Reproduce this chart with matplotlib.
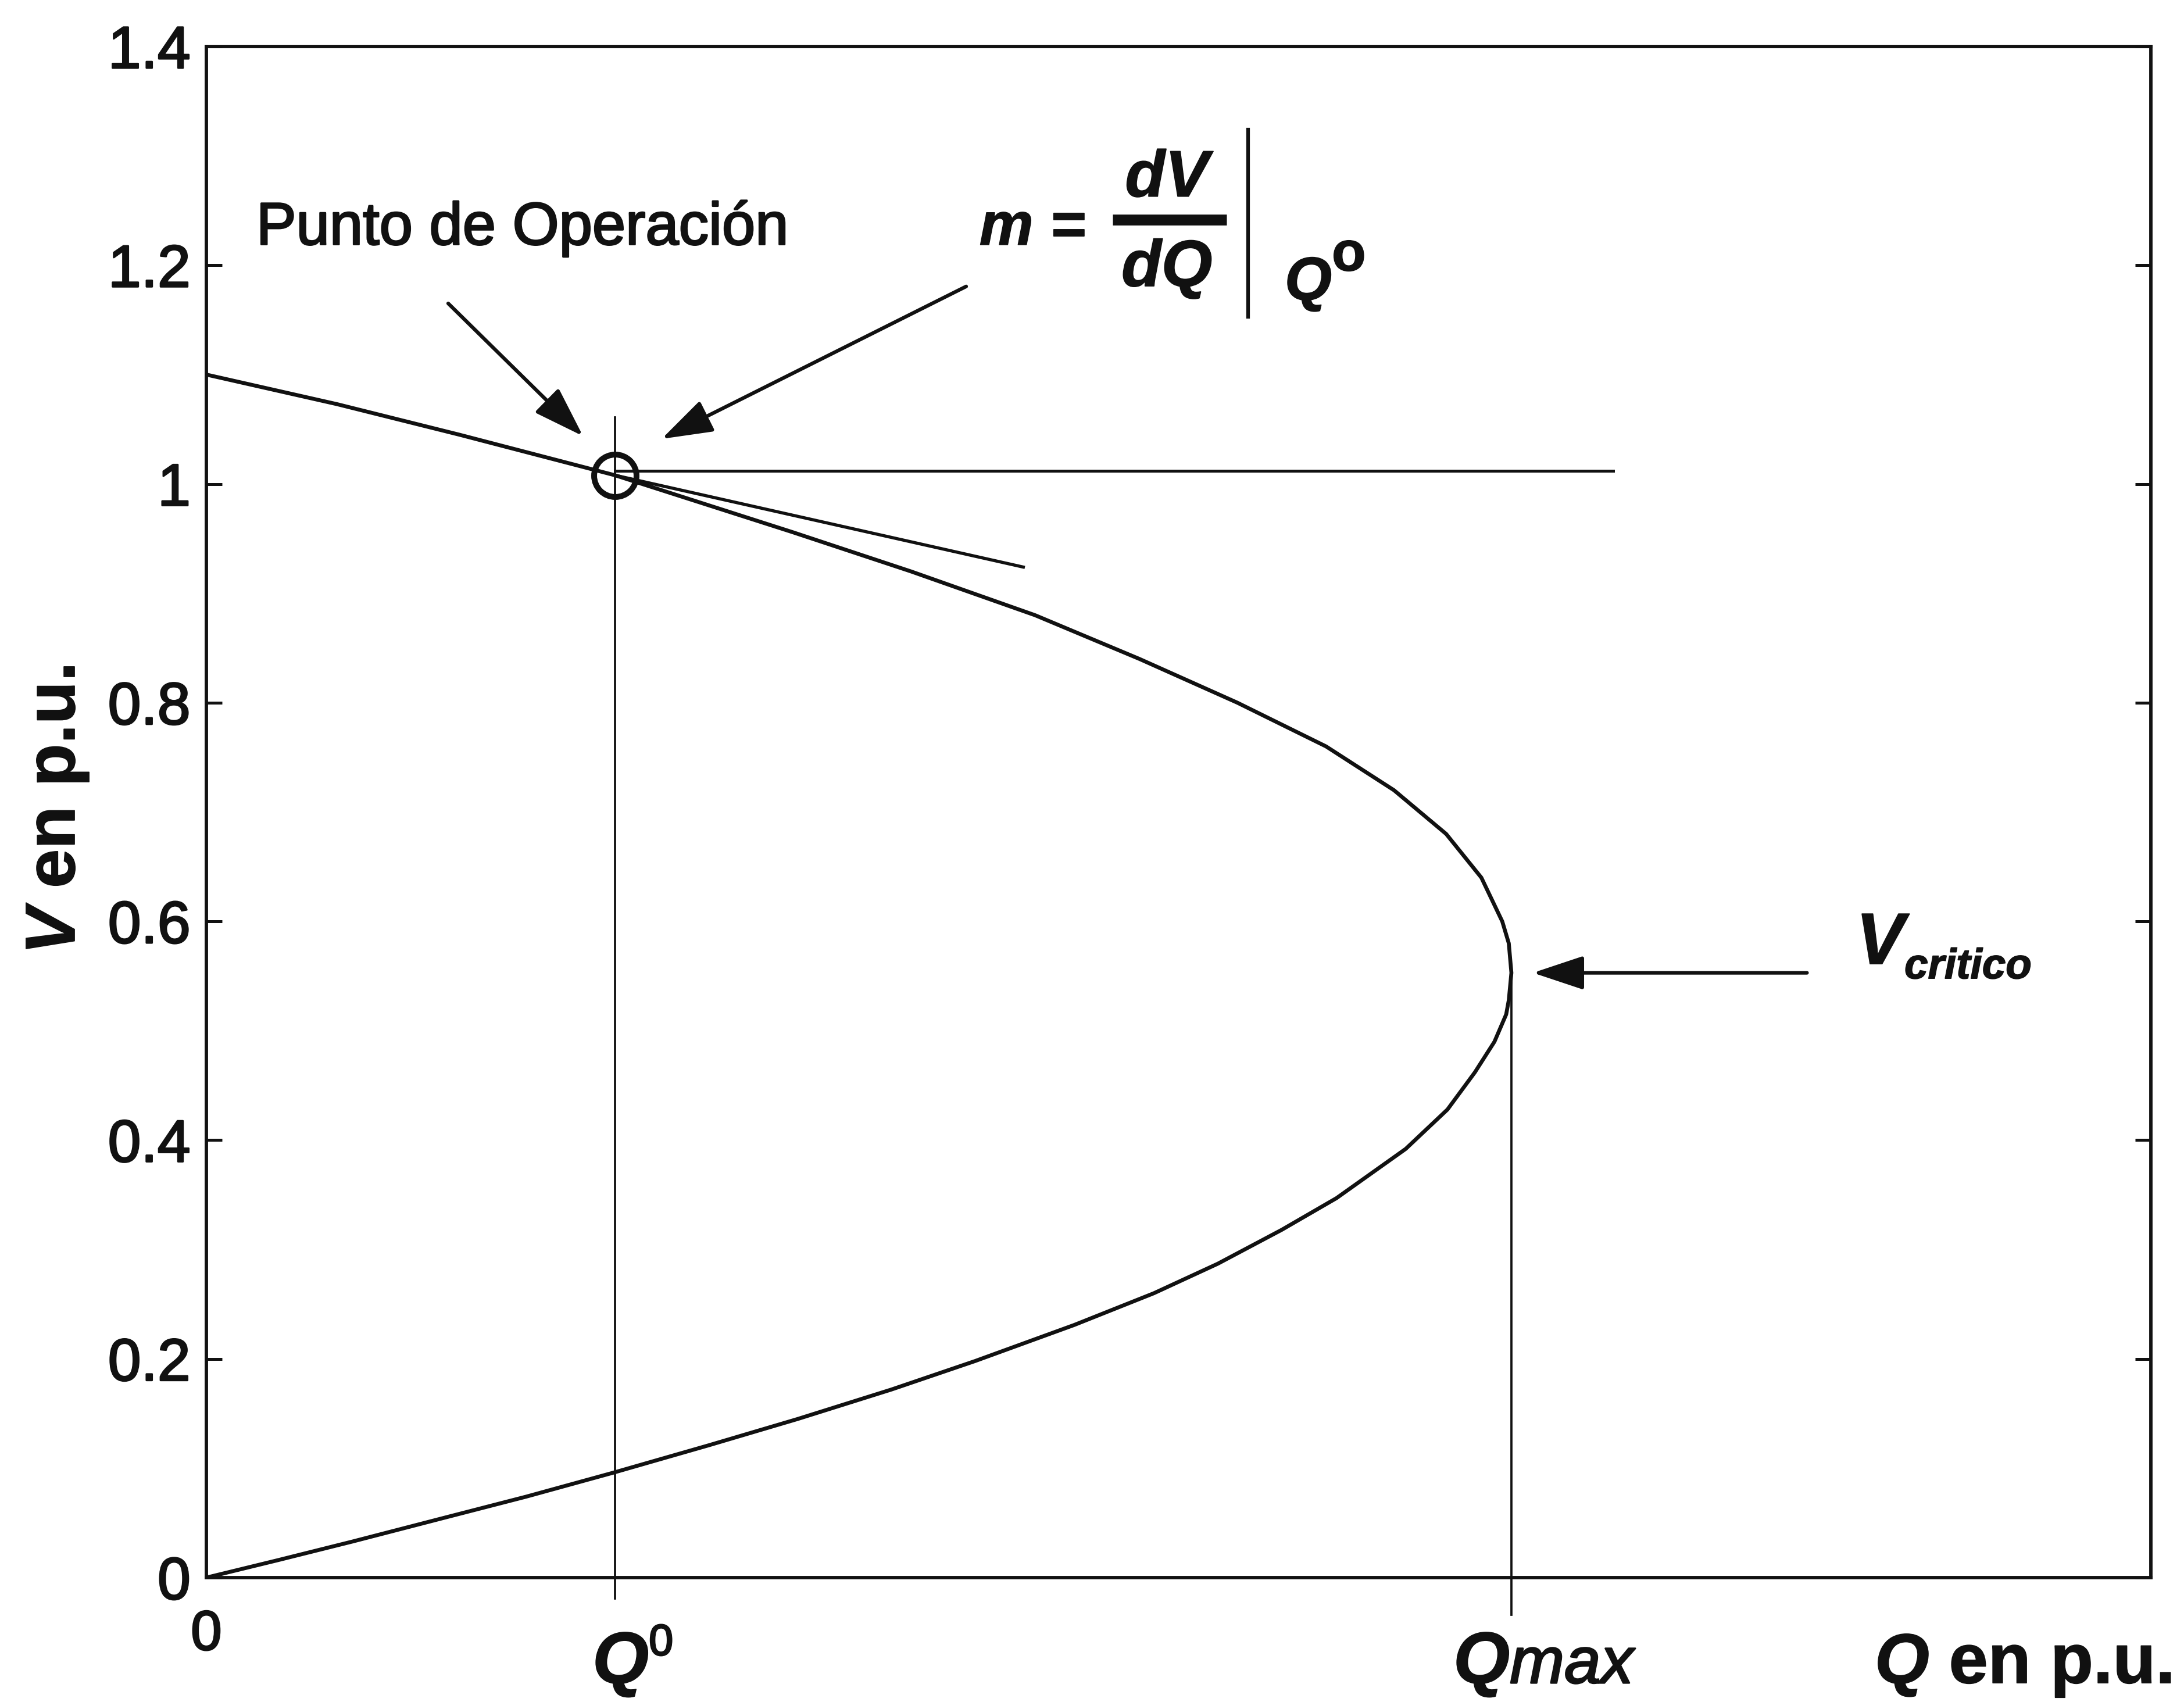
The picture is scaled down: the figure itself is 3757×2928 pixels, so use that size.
import numpy as np
import matplotlib
matplotlib.use("Agg")
import matplotlib.pyplot as plt
import matplotlib.patheffects as pe

# --- Datos de la curva V-Q (en p.u., Q normalizado con Qmax = 1) ---
# rama superior (de Q = 0 hasta la nariz) y rama inferior (de la nariz al origen)
Q_UPPER = [0.000, 0.100, 0.194, 0.313, 0.449, 0.540, 0.635, 0.715, 0.790,
           0.858, 0.910, 0.950, 0.977, 0.993, 0.998, 1.000]
V_UPPER = [1.100, 1.073, 1.045, 1.008, 0.956, 0.920, 0.880, 0.840, 0.800,
           0.760, 0.720, 0.680, 0.640, 0.600, 0.580, 0.553]
Q_LOWER = [1.000, 0.998, 0.996, 0.987, 0.972, 0.951, 0.919, 0.866, 0.824,
           0.775, 0.726, 0.665, 0.589, 0.525, 0.453, 0.385, 0.312, 0.245,
           0.180, 0.112, 0.055, 0.000]
V_LOWER = [0.553, 0.528, 0.515, 0.490, 0.462, 0.428, 0.392, 0.347, 0.318,
           0.287, 0.260, 0.231, 0.198, 0.172, 0.145, 0.121, 0.096, 0.074,
           0.054, 0.033, 0.016, 0.000]

Q0 = 0.313          # punto de operación
V_OP = 1.008
Q_MAX = 1.0
V_CRIT = 0.553
V_HLINE = 1.012     # línea horizontal desde el punto de operación
Q_HLINE_END = 1.078
Q_TAN_END = 0.626   # extremo de la tangente dV/dQ
V_TAN_END = 0.924

Y_TICKS = [0.0, 0.2, 0.4, 0.6, 0.8, 1.0, 1.2, 1.4]
Y_TICK_LABELS = ["0", "0.2", "0.4", "0.6", "0.8", "1", "1.2", "1.4"]
X_TICKS = [0.0]
X_TICK_LABELS = ["0"]

INK = "#111111"
W, H, DPI = 3757, 2928, 300

plt.rcParams["font.family"] = ["Liberation Sans", "DejaVu Sans"]

# trazo extra para que el texto tenga el grosor de la impresión
THICK = [pe.withStroke(linewidth=0.7, foreground=INK)]
THICK_B = [pe.withStroke(linewidth=0.4, foreground=INK)]

fig = plt.figure(figsize=(W / DPI, H / DPI), dpi=DPI)
fig.patch.set_facecolor("white")
ax = fig.add_axes([355 / W, 1 - 2714 / H, (3700 - 355) / W, (2714 - 80) / H])
ax.set_xlim(0, 1.49)
ax.set_ylim(0, 1.4)

for s in ax.spines.values():
    s.set_linewidth(1.4)
    s.set_color(INK)

ax.set_yticks(Y_TICKS)
ax.set_yticklabels(Y_TICK_LABELS)
ax.set_xticks(X_TICKS)
ax.set_xticklabels(X_TICK_LABELS)
ax.tick_params(axis="y", direction="in", length=6.5, width=1.2, right=True,
               labelsize=24.5, pad=6.5, colors=INK)
ax.tick_params(axis="x", length=0, labelsize=23, pad=13, colors=INK)
for lab in ax.get_yticklabels() + ax.get_xticklabels():
    lab.set_path_effects(THICK)

# curva nariz
ax.plot(Q_UPPER + Q_LOWER, V_UPPER + V_LOWER, color=INK, lw=1.6,
        solid_joinstyle="round")

# líneas auxiliares
ax.plot([Q0, Q0], [-0.019, 1.061], color=INK, lw=0.9, clip_on=False)
ax.plot([Q_MAX, Q_MAX], [-0.034, V_CRIT], color=INK, lw=0.9, clip_on=False)
ax.plot([Q0, Q_HLINE_END], [V_HLINE, V_HLINE], color=INK, lw=1.2)
ax.plot([Q0, Q_TAN_END], [V_OP, V_TAN_END], color=INK, lw=1.3)
ax.plot([Q0], [V_OP], marker="o", mfc="none", mec=INK, ms=17.5, mew=2.4)

# flechas
arrow = dict(arrowstyle="-|>,head_length=1.8,head_width=0.6", mutation_scale=10,
             lw=1.5, color=INK, fc=INK, shrinkA=0, shrinkB=0)
ax.annotate("", xy=(0.2886, 1.0438), xytext=(0.1853, 1.1651), arrowprops=arrow)
ax.annotate("", xy=(0.3489, 1.0412), xytext=(0.5822, 1.1806), arrowprops=arrow)
ax.annotate("", xy=(1.0165, V_CRIT), xytext=(1.2265, V_CRIT), arrowprops=arrow)

ax.text(0.0383, 1.219, "Punto de Operación", fontsize=24.7, color=INK,
        ha="left", va="baseline", path_effects=THICK)

renderer = fig.canvas.get_renderer()


def put_runs(x, y, runs, rotation=0):
    """Escribe trozos de texto con estilos distintos uno tras otro."""
    px, py = ax.transData.transform((x, y))
    for text, size, weight, style, rise in runs:
        rp = rise * DPI / 72
        tx, ty = (px - rp, py) if rotation == 90 else (px, py + rp)
        t = fig.text(tx / W, ty / H, text, fontsize=size, fontweight=weight,
                     fontstyle=style, ha="left", va="baseline", color=INK,
                     rotation=rotation, rotation_mode="anchor",
                     path_effects=THICK_B if weight == "bold" else THICK)
        bb = t.get_window_extent(renderer=renderer)
        if rotation == 90:
            py = bb.y1
        else:
            px = bb.x1


# m = dV/dQ | Q0
put_runs(0.5924, 1.2188, [("m =", 25, "bold", "italic", 0)])
for yy, txt in [(1.263, "dV"), (1.181, "dQ")]:
    ax.text(0.7360, yy, txt, fontsize=27, fontweight="bold", fontstyle="italic",
            ha="center", va="baseline", color=INK, path_effects=THICK_B)
ax.plot([0.6944, 0.7817], [1.2415, 1.2415], color=INK, lw=4.5, solid_capstyle="butt")
ax.plot([0.7982, 0.7982], [1.153, 1.324], color=INK, lw=1.5)
put_runs(0.8263, 1.1686, [("Q", 25, "bold", "italic", 0),
                          ("o", 23, "bold", "normal", 12)])

# V crítico
put_runs(1.264, 0.5612, [("V", 30, "bold", "italic", 0),
                         ("critico", 17.5, "bold", "italic", -6)])

# etiquetas del eje Q
YB = -0.0963
put_runs(0.2958, YB, [("Q", 30, "bold", "italic", 0),
                      ("0", 18, "normal", "normal", 11.5)])
put_runs(0.9555, YB, [("Q", 30, "bold", "italic", 0),
                      ("max", 27, "normal", "italic", 0)])
put_runs(1.2784, YB, [("Q", 29, "bold", "italic", 0),
                      (" en p.u.", 29, "bold", "normal", 0)])

# etiqueta del eje V
put_runs(-0.1011, 0.5697, [("V", 29, "bold", "italic", 0),
                           (" en p.u.", 29, "bold", "normal", 0)], rotation=90)

fig.savefig("out.png", dpi=DPI, facecolor="white")
